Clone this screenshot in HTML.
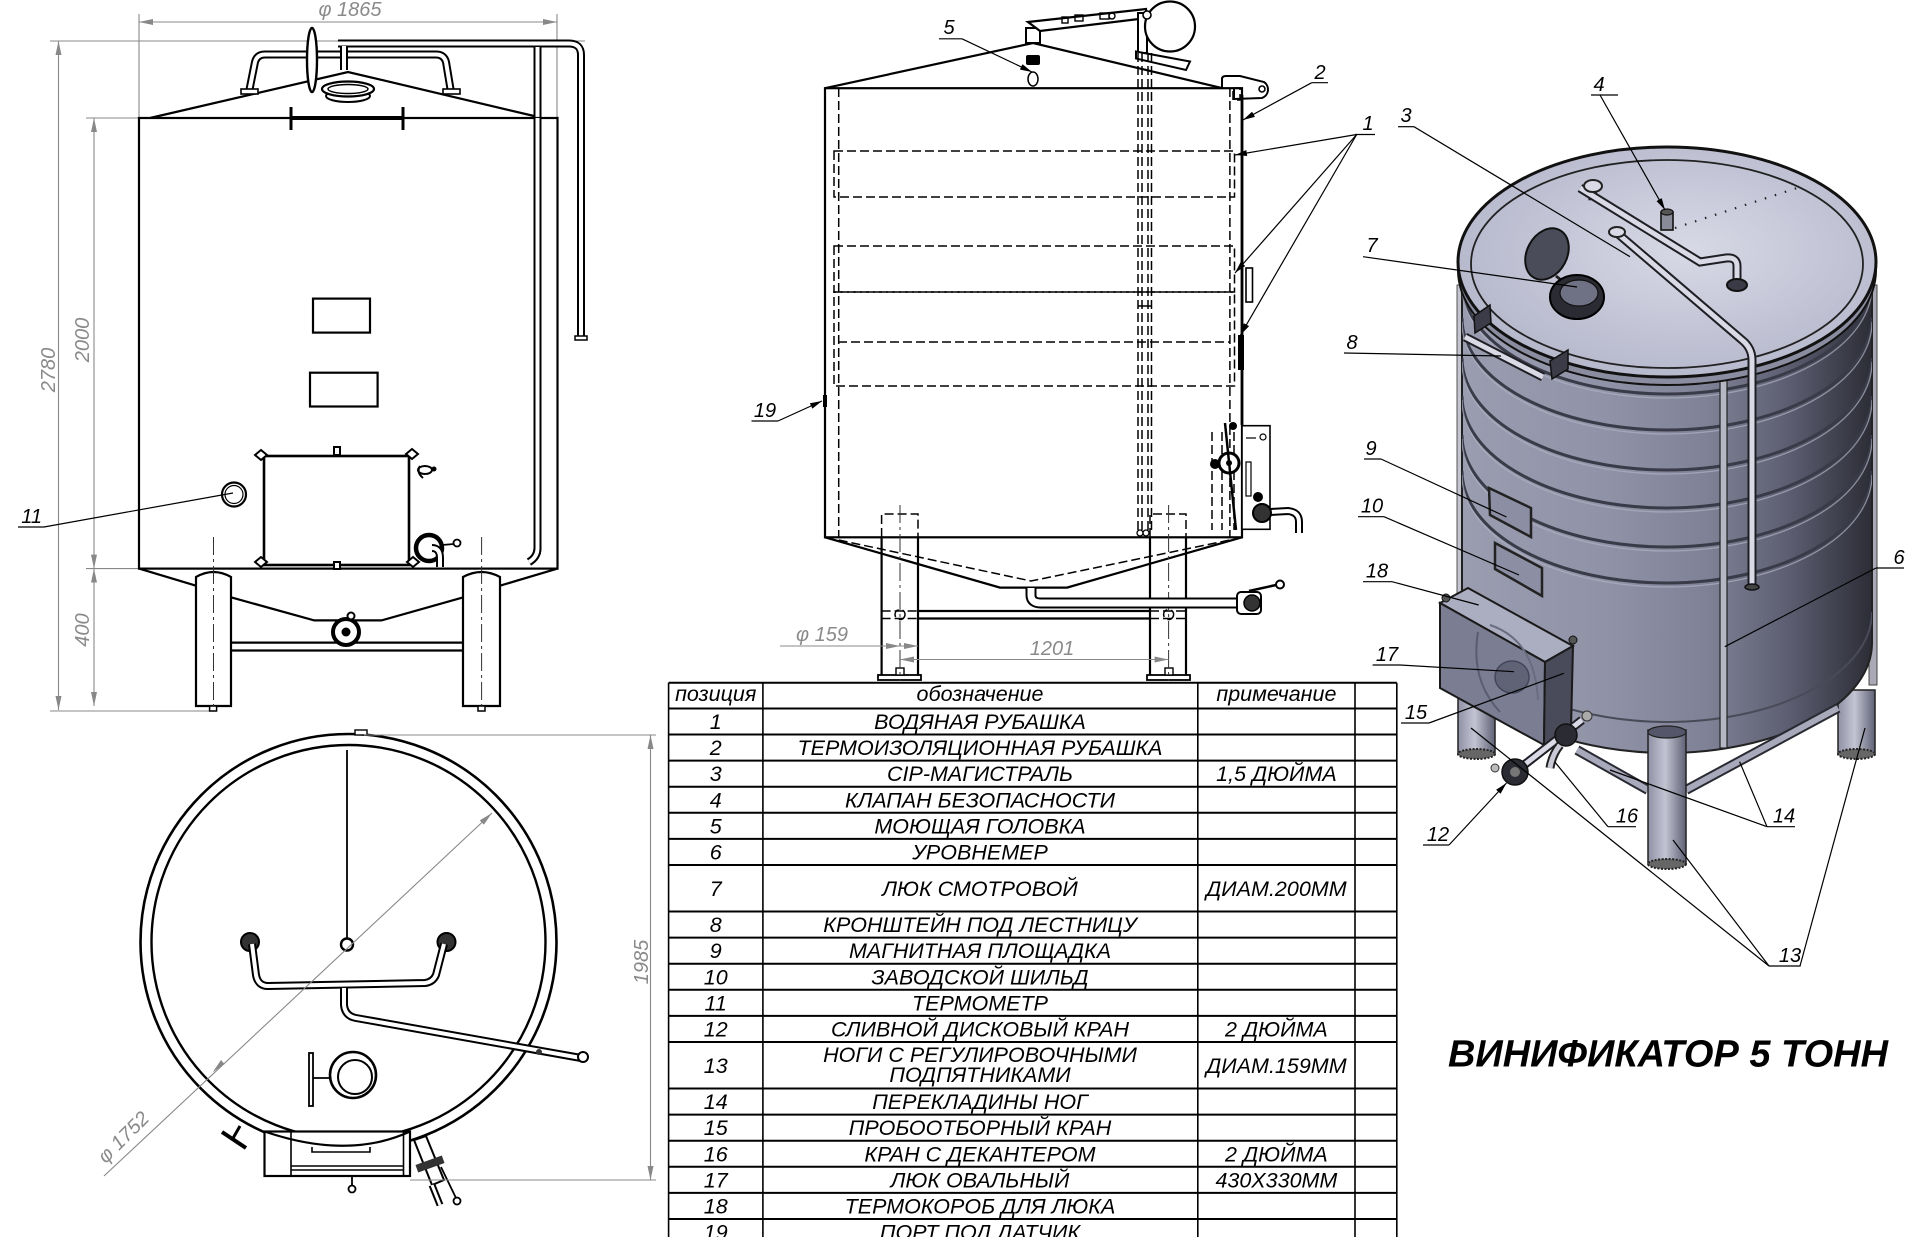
<!DOCTYPE html>
<html><head><meta charset="utf-8">
<style>
html,body{margin:0;padding:0;background:#fff;}
svg{display:block;}
text{font-family:"Liberation Sans","DejaVu Sans",sans-serif;font-style:italic;}
.s{fill:none;stroke:#000;stroke-width:2.2;}
.t{fill:none;stroke:#000;stroke-width:1.2;}
.d{fill:none;stroke:#000;stroke-width:1.5;stroke-dasharray:9,4;}
.dg{fill:none;stroke:#888;stroke-width:1.1;}
.cl{fill:none;stroke:#333;stroke-width:1;stroke-dasharray:18,4,3,4;}
.po{fill:none;stroke:#000;stroke-width:8;}
.pi{fill:none;stroke:#fff;stroke-width:4;}
.to{fill:none;stroke:#1e1e24;stroke-width:9;}
.ti{fill:none;stroke:#d9dae6;stroke-width:5;}
.lb{font-size:20px;fill:#000;text-anchor:middle;}
.dt{font-size:20px;fill:#8a8a8a;text-anchor:middle;}
.tb{font-size:21.5px;fill:#000;text-anchor:middle;}
</style></head><body>
<svg width="1920" height="1237" viewBox="0 0 1920 1237" xmlns="http://www.w3.org/2000/svg">
<defs>
<marker id="ar" viewBox="0 0 12 6" refX="12" refY="3" markerWidth="12" markerHeight="6" orient="auto-start-reverse" markerUnits="userSpaceOnUse"><path d="M0,0 L12,3 L0,6 Z" fill="#000"/></marker>
<marker id="ag" viewBox="0 0 14 6" refX="14" refY="3" markerWidth="14" markerHeight="6" orient="auto-start-reverse" markerUnits="userSpaceOnUse"><path d="M0,0 L14,3 L0,6 Z" fill="#888"/></marker>
<linearGradient id="body" x1="0" x2="1" y1="0" y2="0">
<stop offset="0" stop-color="#9a9cb0"/><stop offset="0.35" stop-color="#9092a7"/><stop offset="0.6" stop-color="#7f8196"/><stop offset="0.8" stop-color="#5c5d70"/><stop offset="1" stop-color="#2c2d36"/></linearGradient>
<radialGradient id="lid" cx="0.55" cy="0.45" r="0.65">
<stop offset="0" stop-color="#d8d9e6"/><stop offset="1" stop-color="#b1b3c8"/></radialGradient>
<linearGradient id="leg" x1="0" x2="1" y1="0" y2="0">
<stop offset="0" stop-color="#8f91a5"/><stop offset="0.45" stop-color="#c3c4d2"/><stop offset="1" stop-color="#5f6175"/></linearGradient>
<clipPath id="bc"><path d="M1462,262 L1462,643 A205,110 0 0 0 1872,643 L1872,262 Z"/></clipPath>
</defs>

<!-- ================= LEFT FRONT VIEW ================= -->
<!-- dimensions -->
<line class="dg" x1="139" y1="22" x2="557" y2="22" marker-start="url(#ag)" marker-end="url(#ag)"/>
<line class="dg" x1="139" y1="14" x2="139" y2="118"/>
<line class="dg" x1="557" y1="14" x2="557" y2="118"/>
<text class="dt" x="350" y="16" font-size="19">φ 1865</text>
<line class="dg" x1="58.5" y1="41" x2="58.5" y2="710" marker-start="url(#ag)" marker-end="url(#ag)"/>
<line class="dg" x1="50" y1="41" x2="585" y2="41"/>
<line class="dg" x1="50" y1="711" x2="213" y2="711"/>
<line class="dg" x1="94" y1="118" x2="94" y2="568.6" marker-start="url(#ag)" marker-end="url(#ag)"/>
<line class="dg" x1="94" y1="568.6" x2="94" y2="706" marker-start="url(#ag)" marker-end="url(#ag)"/>
<line class="dg" x1="86" y1="118" x2="139" y2="118"/>
<line class="dg" x1="86" y1="568.6" x2="139" y2="568.6"/>
<text class="dt" transform="translate(55,370) rotate(-90)">2780</text>
<text class="dt" transform="translate(89,340) rotate(-90)">2000</text>
<text class="dt" transform="translate(89,630) rotate(-90)">400</text>

<!-- roof -->
<polyline class="s" points="150,118 348,72 534,116"/>
<!-- roof pipes -->
<path class="po" d="M249,92 L255,62 Q257,54.5 265,54.5 L436,54.5 Q444,54.5 446,62 L451,92"/>
<path class="pi" d="M249,92 L255,62 Q257,54.5 265,54.5 L436,54.5 Q444,54.5 446,62 L451,92"/>
<rect x="241" y="89" width="17" height="5" fill="#fff" stroke="#000" stroke-width="1.6"/>
<rect x="443" y="89" width="17" height="5" fill="#fff" stroke="#000" stroke-width="1.6"/>
<path class="po" d="M338,43.5 L569,43.5 Q581,43.5 581,55 L581,339" stroke-width="7"/>
<path class="pi" d="M338,43.5 L569,43.5 Q581,43.5 581,55 L581,339" stroke-width="3.5"/>
<rect x="575" y="336" width="12" height="4" fill="#fff" stroke="#000" stroke-width="1.5"/>
<path class="po" d="M344,46 L344,70" stroke-width="7"/>
<path class="pi" d="M344,46 L344,70" stroke-width="3"/>
<!-- right vertical pipe -->
<path class="po" d="M537.5,47 L537.5,548 Q537.5,557 529,562" stroke-width="8.5"/>
<path class="pi" d="M537.5,47 L537.5,548 Q537.5,557 529,562" stroke-width="4.5"/>
<!-- manway -->
<ellipse cx="348" cy="96" rx="22" ry="6" fill="#fff" stroke="#000" stroke-width="2"/>
<ellipse cx="348" cy="89" rx="26" ry="7.5" fill="#fff" stroke="#000" stroke-width="2.2"/>
<ellipse cx="348" cy="89" rx="20" ry="4.5" fill="none" stroke="#000" stroke-width="1.5"/>
<ellipse cx="312" cy="60" rx="5" ry="32" fill="#fff" stroke="#000" stroke-width="2.4"/>
<!-- body -->
<rect class="s" x="139" y="118" width="418.5" height="450.6" fill="#fff"/>
<rect x="290.6" y="116" width="112.7" height="4" fill="#000"/>
<line x1="291" y1="107" x2="291" y2="130" stroke="#000" stroke-width="3"/>
<line x1="403" y1="107" x2="403" y2="130" stroke="#000" stroke-width="3"/>
<!-- pipes over body again (front) -->
<path class="po" d="M537.5,118 L537.5,548 Q537.5,557 529,562" stroke-width="8.5"/>
<path class="pi" d="M537.5,118 L537.5,548 Q537.5,557 529,562" stroke-width="4.5"/>
<rect class="s" x="313" y="298.6" width="57" height="34"/>
<rect class="s" x="310" y="372.7" width="67.6" height="33.8"/>
<!-- manhole -->
<rect x="264" y="456" width="145" height="109" fill="none" stroke="#000" stroke-width="2.6"/>
<g fill="#fff" stroke="#000" stroke-width="2">
<polygon points="261,450 267,455 261,460 255,455"/>
<polygon points="412,449 418,454 412,459 406,454"/>
<polygon points="261,557 267,562 261,567 255,562"/>
<polygon points="413,557 419,562 413,567 407,562"/>
<rect x="334" y="447" width="6" height="8"/>
<rect x="334" y="562" width="6" height="7"/>
</g>
<!-- sample valve -->
<ellipse cx="425" cy="470" rx="7" ry="4" fill="#fff" stroke="#000" stroke-width="2"/>
<path d="M420,466 Q416,472 423,478" fill="none" stroke="#000" stroke-width="2"/>
<circle cx="434" cy="469" r="2.5" fill="#000"/>
<!-- decanter valve -->
<circle cx="429" cy="548" r="13" fill="#fff" stroke="#000" stroke-width="4.5"/>
<path class="po" d="M432,548 Q440,548 440,558 L440,567" stroke-width="8"/>
<path class="pi" d="M432,548 Q440,548 440,558 L440,567" stroke-width="4"/>
<circle cx="457" cy="543" r="3.5" fill="#fff" stroke="#000" stroke-width="1.8"/>
<line x1="442" y1="545" x2="454" y2="544" stroke="#000" stroke-width="1.8"/>
<!-- thermometer -->
<circle cx="234" cy="494.5" r="12" fill="#fff" stroke="#000" stroke-width="2.2"/>
<circle cx="234" cy="494.5" r="9" fill="none" stroke="#000" stroke-width="1.2"/>
<!-- bottom cone & legs -->
<path class="s" d="M139,568.6 L196,585.7 M231,597.3 L314.3,620.4 L381.5,620.4 L463.4,597.3 M500,585.7 L557.5,568.6"/>
<path class="s" d="M196,706 L196,577 Q213.5,567 231,577 L231,706 Z" fill="#fff"/>
<path class="s" d="M463,706 L463,577 Q481.5,567 500,577 L500,706 Z" fill="#fff"/>
<line class="s" x1="231" y1="642.6" x2="463" y2="642.6"/>
<line class="s" x1="231" y1="650.5" x2="463" y2="650.5"/>
<rect x="209.6" y="706" width="7" height="5" fill="#fff" stroke="#000" stroke-width="1.5"/>
<rect x="478" y="706" width="7" height="5" fill="#fff" stroke="#000" stroke-width="1.5"/>
<line class="cl" x1="213.5" y1="537" x2="213.5" y2="712"/>
<line class="cl" x1="481.6" y1="537" x2="481.6" y2="712"/>
<circle cx="346" cy="632" r="13" fill="#fff" stroke="#000" stroke-width="4"/>
<circle cx="346" cy="632" r="4.5" fill="#000"/>
<circle cx="351" cy="616" r="3.5" fill="#fff" stroke="#000" stroke-width="2"/>
<!-- label 11 -->
<text class="lb" x="31.6" y="523">11</text>
<polyline class="t" points="18,527 44,527 233,493"/>

<!-- ================= TOP VIEW (circle) ================= -->
<circle cx="348.5" cy="942" r="208" fill="none" stroke="#000" stroke-width="2.6"/>
<circle cx="348.5" cy="942" r="197" fill="none" stroke="#000" stroke-width="2.4"/>
<rect x="355" y="730" width="12" height="5" fill="#fff" stroke="#000" stroke-width="1.4"/>
<line x1="347" y1="750" x2="347" y2="938" stroke="#000" stroke-width="1.8"/>
<circle cx="347" cy="944.5" r="6" fill="#fff" stroke="#000" stroke-width="2.4"/>
<circle cx="250" cy="942" r="9" fill="#333" stroke="#000" stroke-width="2"/>
<circle cx="446.5" cy="942" r="9" fill="#333" stroke="#000" stroke-width="2"/>
<path class="po" d="M252,944 L256,975 Q258,986 268,986 L425,983 Q433,982 436,975 L444,944"/>
<path class="pi" d="M252,944 L256,975 Q258,986 268,986 L425,983 Q433,982 436,975 L444,944"/>
<path class="po" d="M344,988 L344,1005 Q345,1016 356,1018 L581,1058"/>
<path class="pi" d="M344,988 L344,1005 Q345,1016 356,1018 L581,1058"/>
<circle cx="583" cy="1057" r="5" fill="#fff" stroke="#000" stroke-width="2"/>
<circle cx="539" cy="1052" r="3" fill="#333"/>
<circle cx="353" cy="1075" r="23" fill="#fff" stroke="#000" stroke-width="2.6"/>
<circle cx="355" cy="1077" r="17" fill="none" stroke="#000" stroke-width="2"/>
<rect x="309" y="1053" width="4" height="53" fill="#fff" stroke="#000" stroke-width="1.8"/>
<line x1="313" y1="1078" x2="330" y2="1078" stroke="#000" stroke-width="1.8"/>
<rect x="264.5" y="1131.5" width="145.5" height="44.5" fill="#fff" stroke="#000" stroke-width="2.2"/>
<path d="M291,1131.5 L291,1176 M403.5,1131.5 L403.5,1176 M291,1166 L403.5,1166 M291,1170 L403.5,1170" fill="none" stroke="#000" stroke-width="1.6"/>
<path d="M264.5,1131.5 Q348,1160 410,1131.5" fill="none" stroke="#000" stroke-width="2.2"/>
<path d="M312,1147 L312,1152 L370,1152 L370,1147" fill="none" stroke="#000" stroke-width="1.6"/>
<circle cx="352" cy="1189" r="3.5" fill="#fff" stroke="#000" stroke-width="1.8"/>
<line x1="352" y1="1176" x2="352" y2="1186" stroke="#000" stroke-width="1.8"/>
<line x1="240" y1="1126" x2="232" y2="1140" stroke="#000" stroke-width="3"/>
<line x1="222" y1="1132" x2="246" y2="1148" stroke="#000" stroke-width="4"/>
<path d="M414,1140 L432,1185 L444,1180 L426,1136 Z" fill="#fff" stroke="#000" stroke-width="2"/>
<path d="M432,1185 L440,1205" stroke="#000" stroke-width="7"/>
<path d="M432,1185 L440,1205" stroke="#fff" stroke-width="3"/>
<rect x="416" y="1160" width="28" height="8" fill="#333" transform="rotate(-20 430 1164)"/>
<line x1="441" y1="1167" x2="456" y2="1198" stroke="#000" stroke-width="1.8"/>
<circle cx="457" cy="1201" r="3.5" fill="#fff" stroke="#000" stroke-width="1.8"/>
<!-- dims -->
<line class="dg" x1="104" y1="1176" x2="492" y2="813" marker-end="url(#ag)"/>
<path d="M212.5,1072.5 L221,1060 L224.5,1064 Z" fill="#888"/>
<text class="dt" transform="translate(128,1142) rotate(-45)">φ 1752</text>
<line class="dg" x1="364" y1="735" x2="656" y2="735"/>
<line class="dg" x1="410" y1="1180" x2="656" y2="1180"/>
<line class="dg" x1="650.5" y1="735" x2="650.5" y2="1180" marker-start="url(#ag)" marker-end="url(#ag)"/>
<text class="dt" transform="translate(648,962) rotate(-90)">1985</text>

<!-- ================= MIDDLE SIDE VIEW ================= -->
<polyline class="s" points="825,88.2 1033,43 1223,88.3"/>
<!-- top pipes -->
<path d="M1026,28 L1040,28 L1040,43 L1026,43 Z" fill="#fff" stroke="#000" stroke-width="2"/>
<path d="M1028,22 L1146,9 L1147,18 L1040,31 Z" fill="#fff" stroke="#000" stroke-width="2.2"/>
<g fill="none" stroke="#000" stroke-width="1.4"><rect x="1062" y="17" width="6" height="6"/><rect x="1075" y="15" width="8" height="6"/><rect x="1100" y="13" width="9" height="6"/><circle cx="1112" cy="16" r="3"/></g>
<rect x="1138" y="13" width="9" height="40" fill="#fff" stroke="#000" stroke-width="2"/>
<circle cx="1170" cy="26.5" r="25" fill="#fff" stroke="#000" stroke-width="2.2"/>
<circle cx="1147" cy="15" r="4" fill="#fff" stroke="#000" stroke-width="1.6"/>
<path d="M1136,51.5 L1190,61.5 L1186,70 L1136,58.5 Z" fill="#fff" stroke="#000" stroke-width="2"/>
<rect x="1026" y="55" width="14" height="10" rx="2" fill="#000"/>
<ellipse cx="1033" cy="79" rx="5" ry="7" fill="#fff" stroke="#000" stroke-width="1.5"/>
<!-- bracket -->
<path d="M1222,88 L1222,79 Q1222,76 1226,76 L1240,76 L1264,82 A9,9 0 0 1 1262,98 L1234,99 L1234,88" fill="#fff" stroke="#000" stroke-width="2"/>
<circle cx="1262" cy="89" r="3" fill="none" stroke="#000" stroke-width="1.6"/>
<rect x="1233" y="88" width="7" height="12" class="d" stroke-width="1.2"/>
<!-- body -->
<rect class="s" x="825" y="88.2" width="417" height="449.1"/>
<line class="d" x1="838.7" y1="88" x2="838.7" y2="537"/>
<line class="d" x1="1229.9" y1="88" x2="1229.9" y2="537"/>
<rect class="d" x="834" y="151" width="400.5" height="46" stroke-width="1.2"/>
<rect class="d" x="834" y="246" width="400.5" height="46" stroke-width="1.2"/>
<rect class="d" x="834" y="292" width="400.5" height="94" stroke-width="1.2"/>
<line class="d" x1="838" y1="342" x2="1230" y2="342" stroke-width="1.2"/>
<g class="d" stroke-width="1.2"><line x1="1138" y1="53" x2="1138" y2="530"/><line x1="1142" y1="53" x2="1142" y2="530"/><line x1="1148" y1="53" x2="1148" y2="530"/><line x1="1151.5" y1="53" x2="1151.5" y2="530"/></g>
<line x1="1138" y1="306" x2="1152" y2="306" stroke="#000" stroke-width="1.5"/>
<circle cx="1140" cy="533" r="3" fill="none" stroke="#000" stroke-width="1.3"/><circle cx="1146" cy="533" r="3" fill="none" stroke="#000" stroke-width="1.3"/>
<line x1="1242" y1="95" x2="1242" y2="425" stroke="#000" stroke-width="2.8"/>
<rect x="1246" y="268" width="6.5" height="34" fill="#fff" stroke="#000" stroke-width="1.6"/>
<rect x="1238" y="335" width="6" height="35" fill="#000"/>
<rect x="823" y="395" width="4" height="12" fill="#000"/>
<!-- right bottom box & valves -->
<rect x="1242" y="425.7" width="28" height="103.6" fill="#fff" stroke="#000" stroke-width="1.6"/>
<g fill="none" stroke="#000" stroke-width="1.2"><rect x="1246" y="462" width="5" height="34"/><circle cx="1263" cy="437" r="3"/><line x1="1246" y1="438" x2="1256" y2="438"/></g>
<g class="d" stroke-width="1.1"><line x1="1212" y1="432" x2="1212" y2="530"/><line x1="1222" y1="432" x2="1222" y2="530"/><line x1="1234" y1="432" x2="1234" y2="530"/></g>
<circle cx="1229" cy="463" r="10" fill="#fff" stroke="#000" stroke-width="3"/>
<circle cx="1229" cy="463" r="3" fill="#000"/>
<circle cx="1215" cy="464" r="5" fill="#000"/>
<line x1="1225" y1="423" x2="1236" y2="530" stroke="#000" stroke-width="2.5"/>
<circle cx="1233" cy="426" r="4" fill="#000"/>
<path class="po" d="M1270,512 L1288,511 Q1299,512 1299,522 L1299,533" stroke-width="9"/>
<path class="pi" d="M1270,512 L1288,511 Q1299,512 1299,522 L1299,533" stroke-width="5"/>
<circle cx="1262" cy="513" r="9" fill="#333" stroke="#000" stroke-width="2"/>
<circle cx="1258" cy="497" r="5" fill="#000"/>
<!-- bottom cone -->
<path class="s" d="M825,537.3 L1000,587.6 L1067,587.6 L1242,537.3"/>
<path class="d" d="M838.7,540 L1031,581 L1229.9,540" stroke-width="1.3"/>
<!-- legs -->
<path class="s" d="M881.6,537 L881.6,677 M918,537 L918,677 M1150,537 L1150,677 M1186,537 L1186,677"/>
<path class="d" d="M881.6,537 L881.6,514 L918,514 L918,537 M1150,537 L1150,514 L1186,514 L1186,537" stroke-width="1.3"/>
<rect x="878" y="675" width="43" height="5" fill="#fff" stroke="#000" stroke-width="1.8"/>
<rect x="1147" y="675" width="43" height="5" fill="#fff" stroke="#000" stroke-width="1.8"/>
<rect x="896" y="668" width="8" height="7" fill="#fff" stroke="#000" stroke-width="1.4"/>
<rect x="1165" y="668" width="8" height="7" fill="#fff" stroke="#000" stroke-width="1.4"/>
<line class="s" x1="918" y1="611" x2="1150" y2="611"/>
<line class="s" x1="918" y1="618.5" x2="1150" y2="618.5"/>
<path class="d" d="M881.6,611 L918,611 M881.6,618.5 L918,618.5 M1150,611 L1186,611 M1150,618.5 L1186,618.5" stroke-width="1.2"/>
<ellipse cx="900" cy="614.5" rx="5" ry="5" class="d" stroke-width="1.2"/>
<ellipse cx="1168.6" cy="614.5" rx="5" ry="5" class="d" stroke-width="1.2"/>
<line class="cl" x1="900" y1="505" x2="900" y2="681"/>
<line class="cl" x1="1168.6" y1="505" x2="1168.6" y2="681"/>
<!-- drain pipe -->
<path d="M1031,588 L1031,595 Q1031,603 1041,603 L1237,603" fill="none" stroke="#000" stroke-width="11"/>
<path d="M1031,588 L1031,595 Q1031,603 1041,603 L1237,603" fill="none" stroke="#fff" stroke-width="7"/>
<rect x="1237" y="592" width="24" height="22" rx="4" fill="#fff" stroke="#000" stroke-width="2"/>
<circle cx="1252" cy="603" r="8" fill="#333" stroke="#000" stroke-width="1.5"/>
<line x1="1249" y1="591" x2="1276" y2="585" stroke="#000" stroke-width="2.5"/>
<circle cx="1280" cy="584.5" r="4" fill="#fff" stroke="#000" stroke-width="2"/>
<!-- dims -->
<line class="dg" x1="780" y1="646" x2="918" y2="646" marker-end="url(#ag)"/>
<path d="M900,646 L886,643 L886,649 Z" fill="#888"/>
<text class="dt" x="822" y="641">φ 159</text>
<line class="dg" x1="900" y1="659.5" x2="1168.6" y2="659.5" marker-start="url(#ag)" marker-end="url(#ag)"/>
<text class="dt" x="1052" y="655">1201</text>
<!-- labels -->
<text class="lb" x="949" y="34">5</text>
<line class="t" x1="939" y1="38.8" x2="962" y2="38.8"/>
<line class="t" x1="962" y1="38.8" x2="1032" y2="72" marker-end="url(#ar)"/>
<text class="lb" x="765" y="417">19</text>
<line class="t" x1="751.5" y1="421" x2="778" y2="421"/>
<line class="t" x1="778" y1="421" x2="822" y2="401" marker-end="url(#ar)"/>
<text class="lb" x="1320" y="79">2</text>
<line class="t" x1="1311.7" y1="82.7" x2="1328" y2="82.7"/>
<line class="t" x1="1311.7" y1="82.7" x2="1243" y2="120" marker-end="url(#ar)"/>
<text class="lb" x="1368" y="130">1</text>
<line class="t" x1="1355" y1="134.5" x2="1375" y2="134.5"/>
<line class="t" x1="1356.7" y1="134.5" x2="1235" y2="155" marker-end="url(#ar)"/>
<line class="t" x1="1356.7" y1="134.5" x2="1235" y2="273" marker-end="url(#ar)"/>
<line class="t" x1="1356.7" y1="134.5" x2="1240.5" y2="335" marker-end="url(#ar)"/>

<!-- ================= 3D VIEW ================= -->
<!-- back legs -->
<rect x="1458" y="690" width="37" height="64" fill="url(#leg)" stroke="#222" stroke-width="1.5"/>
<ellipse cx="1476.5" cy="754" rx="18.5" ry="5" fill="#666" stroke="#222" stroke-width="2" stroke-dasharray="2,1.5"/>
<rect x="1838" y="690" width="37" height="64" fill="url(#leg)" stroke="#222" stroke-width="1.5"/>
<ellipse cx="1856.5" cy="754" rx="18.5" ry="5" fill="#666" stroke="#222" stroke-width="2" stroke-dasharray="2,1.5"/>
<!-- side strips -->
<rect x="1457" y="285" width="8" height="410" fill="#c3c4cf" stroke="#555" stroke-width="1"/>
<rect x="1869" y="285" width="8" height="400" fill="#a9aab6" stroke="#444" stroke-width="1"/>
<!-- body -->
<path d="M1462,262 L1462,643 A205,110 0 0 0 1872,643 L1872,262 Z" fill="url(#body)" stroke="#222" stroke-width="2"/>
<g clip-path="url(#bc)" fill="none">
<g stroke="#3a3b48" stroke-width="3">
<path d="M1462,282 A205,112 0 0 0 1872,282"/>
<path d="M1462,318 A205,112 0 0 0 1872,318"/>
<path d="M1462,358 A205,112 0 0 0 1872,358"/>
<path d="M1462,396 A205,112 0 0 0 1872,396"/>
<path d="M1462,435 A205,112 0 0 0 1872,435"/>
<path d="M1462,471 A205,112 0 0 0 1872,471"/>
</g>
<g stroke="#b0b2c3" stroke-width="1.3" opacity="0.7">
<path d="M1462,286 A205,112 0 0 0 1872,286"/>
<path d="M1462,322 A205,112 0 0 0 1872,322"/>
<path d="M1462,362 A205,112 0 0 0 1872,362"/>
<path d="M1462,400 A205,112 0 0 0 1872,400"/>
<path d="M1462,439 A205,112 0 0 0 1872,439"/>
<path d="M1462,475 A205,112 0 0 0 1872,475"/>
</g>
<path d="M1462,612 A205,110 0 0 0 1872,612" stroke="#4a4b58" stroke-width="2"/>
</g>
<!-- windows 9,10 -->
<polygon points="1489,488 1531,508 1531,537 1490,515" fill="#8c8ea3" stroke="#222" stroke-width="2.5"/>
<polygon points="1495,543 1542,568 1542,596 1495,569" fill="#8c8ea3" stroke="#222" stroke-width="2.5"/>
<!-- level gauge tube 6 -->
<rect x="1720" y="336" width="7" height="412" fill="#b6b7c5" stroke="#222" stroke-width="1.2"/>
<!-- lid rim & lid -->
<path d="M1458,262 L1458,270 A209,115 0 0 0 1876,270 L1876,262 Z" fill="#8a8c9f" stroke="#111" stroke-width="2"/>
<ellipse cx="1667" cy="262" rx="209" ry="115" fill="url(#lid)" stroke="#111" stroke-width="3"/>
<ellipse cx="1667" cy="264" rx="196" ry="104" fill="none" stroke="#222" stroke-width="1.8"/>
<!-- lid objects -->
<ellipse cx="1547" cy="254" rx="20" ry="27" transform="rotate(28 1547 254)" fill="#4b4c5a" stroke="#111" stroke-width="2"/>
<line x1="1556" y1="276" x2="1566" y2="284" stroke="#222" stroke-width="3"/>
<ellipse cx="1577" cy="297" rx="27" ry="22" fill="#2b2b34" stroke="#000" stroke-width="2"/>
<ellipse cx="1579" cy="293" rx="19" ry="13" fill="#6f7184" stroke="#111" stroke-width="1.2"/>
<path class="to" d="M1593,200 L1592,188 M1580,188 L1700,262 L1726,258 Q1737,257 1737,266 L1737,282"/>
<path class="ti" d="M1580,188 L1700,262 L1726,258 Q1737,257 1737,266 L1737,282"/>
<ellipse cx="1593" cy="186" rx="9" ry="6" fill="#d9dae6" stroke="#222" stroke-width="2"/>
<ellipse cx="1737" cy="285" rx="10" ry="6" fill="#3a3b46" stroke="#111" stroke-width="2"/>
<path class="to" d="M1617,233 L1742,340 Q1752,348 1752,360 L1752,585"/>
<path class="ti" d="M1617,233 L1742,340 Q1752,348 1752,360 L1752,585"/>
<ellipse cx="1617" cy="232" rx="8" ry="5" fill="#d9dae6" stroke="#222" stroke-width="2"/>
<ellipse cx="1752" cy="587" rx="7" ry="3" fill="#444" stroke="#111" stroke-width="1.5"/>
<rect x="1661" y="212" width="12" height="18" fill="#8a8b98" stroke="#111" stroke-width="1.6"/>
<ellipse cx="1667" cy="212" rx="6" ry="3" fill="#555" stroke="#111" stroke-width="1.2"/>
<line x1="1675" y1="228" x2="1797" y2="188" stroke="#222" stroke-width="2.2" stroke-dasharray="1.5,9"/>
<!-- bracket 8 -->
<path class="to" d="M1465,337 L1543,377"/>
<path class="ti" d="M1465,337 L1543,377"/>
<polygon points="1474,316 1490,305 1491,323 1475,333" fill="#3b3c48" stroke="#111" stroke-width="1.5"/>
<polygon points="1550,361 1568,350 1568,369 1552,379" fill="#3b3c48" stroke="#111" stroke-width="1.5"/>
<!-- crossbars -->
<path d="M1577,750 L1648,790 M1686,790 L1838,708" fill="none" stroke="#2a2a33" stroke-width="10"/>
<path d="M1577,750 L1648,790 M1686,790 L1838,708" fill="none" stroke="#a8aabb" stroke-width="6"/>
<!-- box 18/17 -->
<polygon points="1440,603 1468,588 1573,646 1545,662" fill="#abadc0" stroke="#1a1a1a" stroke-width="2"/>
<polygon points="1440,603 1545,662 1544,745 1440,688" fill="#7b7d92" stroke="#1a1a1a" stroke-width="2"/>
<polygon points="1545,662 1573,646 1571,728 1544,745" fill="#4a4b5a" stroke="#1a1a1a" stroke-width="2"/>
<ellipse cx="1512" cy="677" rx="17" ry="16" fill="#606275" stroke="#44465a" stroke-width="1.5"/>
<path d="M1478,632 Q1470,680 1500,712" fill="none" stroke="#5a5c70" stroke-width="2"/>
<path d="M1490,625 Q1535,640 1538,700" fill="none" stroke="#6a6c80" stroke-width="2"/>
<circle cx="1446" cy="598" r="4" fill="#555" stroke="#111" stroke-width="1"/>
<circle cx="1573" cy="640" r="4" fill="#555" stroke="#111" stroke-width="1"/>
<!-- valves -->
<path class="to" d="M1582,720 L1515,772"/>
<path class="ti" d="M1582,720 L1515,772" stroke="#c4c5d2"/>
<circle cx="1566" cy="735" r="11" fill="#2b2b33" stroke="#111" stroke-width="1.5"/>
<path d="M1560,745 Q1552,755 1550,768" fill="none" stroke="#222" stroke-width="9"/>
<path d="M1560,745 Q1552,755 1550,768" fill="none" stroke="#c9cad6" stroke-width="5"/>
<circle cx="1515" cy="772" r="13" fill="#2b2b33" stroke="#111" stroke-width="1.5"/>
<circle cx="1515" cy="772" r="5" fill="#777"/>
<circle cx="1495" cy="768" r="4" fill="#bbb" stroke="#333" stroke-width="1"/>
<circle cx="1587" cy="716" r="5" fill="#aaa" stroke="#333" stroke-width="1"/>
<!-- front leg -->
<rect x="1648" y="730" width="38" height="134" fill="url(#leg)" stroke="#222" stroke-width="1.5"/>
<ellipse cx="1667" cy="732" rx="19" ry="6" fill="#55566a" stroke="#222" stroke-width="1.2"/>
<ellipse cx="1667" cy="864" rx="19" ry="5" fill="#666" stroke="#222" stroke-width="2" stroke-dasharray="2,1.5"/>
<!-- 3D labels -->
<g>
<text class="lb" x="1599" y="91">4</text>
<line class="t" x1="1591" y1="95" x2="1618" y2="95"/>
<line class="t" x1="1600" y1="95" x2="1665" y2="210" marker-end="url(#ar)"/>
<text class="lb" x="1406" y="122">3</text>
<line class="t" x1="1398" y1="126.7" x2="1414" y2="126.7"/>
<line class="t" x1="1414" y1="126.7" x2="1630" y2="256.7"/>
<text class="lb" x="1372" y="252">7</text>
<line class="t" x1="1363" y1="256.7" x2="1577" y2="287"/>
<text class="lb" x="1352" y="349">8</text>
<line class="t" x1="1344" y1="353" x2="1501" y2="356"/>
<text class="lb" x="1371" y="455">9</text>
<line class="t" x1="1364" y1="459" x2="1381" y2="459"/>
<line class="t" x1="1381" y1="459" x2="1506.5" y2="517"/>
<text class="lb" x="1372" y="512.7">10</text>
<line class="t" x1="1358" y1="516.7" x2="1384" y2="516.7"/>
<line class="t" x1="1384" y1="516.7" x2="1519" y2="575"/>
<text class="lb" x="1377" y="577.7">18</text>
<line class="t" x1="1363" y1="581.7" x2="1392" y2="581.7"/>
<line class="t" x1="1392" y1="581.7" x2="1478.7" y2="605"/>
<text class="lb" x="1387" y="661">17</text>
<line class="t" x1="1372.6" y1="665" x2="1400" y2="665"/>
<line class="t" x1="1400" y1="665" x2="1514" y2="671.7"/>
<text class="lb" x="1416" y="719">15</text>
<line class="t" x1="1401" y1="723" x2="1429" y2="723"/>
<line class="t" x1="1429" y1="723" x2="1563.8" y2="673.3"/>
<text class="lb" x="1438" y="841">12</text>
<line class="t" x1="1423" y1="845" x2="1449" y2="845"/>
<line class="t" x1="1449" y1="845" x2="1506.5" y2="783" marker-end="url(#ar)"/>
<text class="lb" x="1627" y="822.7">16</text>
<line class="t" x1="1608" y1="826.7" x2="1636" y2="826.7"/>
<line class="t" x1="1608" y1="826.7" x2="1554.6" y2="761.7"/>
<text class="lb" x="1784" y="822.7">14</text>
<line class="t" x1="1767" y1="826.7" x2="1795" y2="826.7"/>
<line class="t" x1="1767" y1="826.7" x2="1739.6" y2="761.7"/>
<line class="t" x1="1767" y1="826.7" x2="1610" y2="770"/>
<text class="lb" x="1790" y="962">13</text>
<line class="t" x1="1769" y1="966" x2="1800.6" y2="966"/>
<line class="t" x1="1769" y1="966" x2="1471" y2="728"/>
<line class="t" x1="1769" y1="966" x2="1673" y2="840"/>
<line class="t" x1="1800" y1="966" x2="1865" y2="728"/>
<text class="lb" x="1899" y="564">6</text>
<line class="t" x1="1876" y1="568" x2="1904" y2="568"/>
<line class="t" x1="1876" y1="568" x2="1724.8" y2="646.7"/>
</g>

<!-- ================= TITLE ================= -->
<text x="1448" y="1066.7" font-size="38" font-weight="bold" textLength="440" lengthAdjust="spacingAndGlyphs" fill="#000">ВИНИФИКАТОР 5 ТОНН</text>

<!-- ================= TABLE ================= -->
<g stroke="#000" stroke-width="2" fill="none">
<line x1="668.6" y1="682.7" x2="1396.8" y2="682.7"/>
<line x1="668.6" y1="708.5" x2="1396.8" y2="708.5"/>
<line x1="668.6" y1="734.5" x2="1396.8" y2="734.5"/>
<line x1="668.6" y1="760.6" x2="1396.8" y2="760.6"/>
<line x1="668.6" y1="786.7" x2="1396.8" y2="786.7"/>
<line x1="668.6" y1="812.8" x2="1396.8" y2="812.8"/>
<line x1="668.6" y1="838.9" x2="1396.8" y2="838.9"/>
<line x1="668.6" y1="865" x2="1396.8" y2="865"/>
<line x1="668.6" y1="911.5" x2="1396.8" y2="911.5"/>
<line x1="668.6" y1="937.6" x2="1396.8" y2="937.6"/>
<line x1="668.6" y1="963.7" x2="1396.8" y2="963.7"/>
<line x1="668.6" y1="989.8" x2="1396.8" y2="989.8"/>
<line x1="668.6" y1="1015.9" x2="1396.8" y2="1015.9"/>
<line x1="668.6" y1="1042" x2="1396.8" y2="1042"/>
<line x1="668.6" y1="1088.5" x2="1396.8" y2="1088.5"/>
<line x1="668.6" y1="1114.6" x2="1396.8" y2="1114.6"/>
<line x1="668.6" y1="1140.7" x2="1396.8" y2="1140.7"/>
<line x1="668.6" y1="1166.8" x2="1396.8" y2="1166.8"/>
<line x1="668.6" y1="1192.9" x2="1396.8" y2="1192.9"/>
<line x1="668.6" y1="1219" x2="1396.8" y2="1219"/>
</g>
<g stroke="#000" stroke-width="1.6">
<line x1="668.6" y1="682.7" x2="668.6" y2="1237"/>
<line x1="762.9" y1="682.7" x2="762.9" y2="1237"/>
<line x1="1197.8" y1="682.7" x2="1197.8" y2="1237"/>
<line x1="1355" y1="682.7" x2="1355" y2="1237"/>
<line x1="1396.8" y1="682.7" x2="1396.8" y2="1237"/>
</g>
<g class="tb">
<text class="tb" x="715.7" y="701">позиция</text>
<text class="tb" x="980" y="701">обозначение</text>
<text class="tb" x="1276.4" y="701">примечание</text>

<text class="tb" x="715.7" y="729">1</text><text class="tb" x="980" y="729">ВОДЯНАЯ РУБАШКА</text>
<text class="tb" x="715.7" y="755.1">2</text><text class="tb" x="980" y="755.1">ТЕРМОИЗОЛЯЦИОННАЯ РУБАШКА</text>
<text class="tb" x="715.7" y="781.2">3</text><text class="tb" x="980" y="781.2">CIP-МАГИСТРАЛЬ</text><text class="tb" x="1276.4" y="781.2">1,5 ДЮЙМА</text>
<text class="tb" x="715.7" y="807.3">4</text><text class="tb" x="980" y="807.3">КЛАПАН БЕЗОПАСНОСТИ</text>
<text class="tb" x="715.7" y="833.4">5</text><text class="tb" x="980" y="833.4">МОЮЩАЯ ГОЛОВКА</text>
<text class="tb" x="715.7" y="859.5">6</text><text class="tb" x="980" y="859.5">УРОВНЕМЕР</text>
<text class="tb" x="715.7" y="895.8">7</text><text class="tb" x="980" y="895.8">ЛЮК СМОТРОВОЙ</text><text class="tb" x="1276.4" y="895.8">ДИАМ.200ММ</text>
<text class="tb" x="715.7" y="932.1">8</text><text class="tb" x="980" y="932.1">КРОНШТЕЙН ПОД ЛЕСТНИЦУ</text>
<text class="tb" x="715.7" y="958.2">9</text><text class="tb" x="980" y="958.2">МАГНИТНАЯ ПЛОЩАДКА</text>
<text class="tb" x="715.7" y="984.3">10</text><text class="tb" x="980" y="984.3">ЗАВОДСКОЙ ШИЛЬД</text>
<text class="tb" x="715.7" y="1010.4">11</text><text class="tb" x="980" y="1010.4">ТЕРМОМЕТР</text>
<text class="tb" x="715.7" y="1036.5">12</text><text class="tb" x="980" y="1036.5">СЛИВНОЙ ДИСКОВЫЙ КРАН</text><text class="tb" x="1276.4" y="1036.5">2 ДЮЙМА</text>
<text class="tb" x="715.7" y="1073">13</text><text class="tb" x="980" y="1062">НОГИ С РЕГУЛИРОВОЧНЫМИ</text><text class="tb" x="980" y="1082">ПОДПЯТНИКАМИ</text><text class="tb" x="1276.4" y="1073">ДИАМ.159ММ</text>
<text class="tb" x="715.7" y="1109.1">14</text><text class="tb" x="980" y="1109.1">ПЕРЕКЛАДИНЫ НОГ</text>
<text class="tb" x="715.7" y="1135.2">15</text><text class="tb" x="980" y="1135.2">ПРОБООТБОРНЫЙ КРАН</text>
<text class="tb" x="715.7" y="1161.3">16</text><text class="tb" x="980" y="1161.3">КРАН С ДЕКАНТЕРОМ</text><text class="tb" x="1276.4" y="1161.3">2 ДЮЙМА</text>
<text class="tb" x="715.7" y="1187.4">17</text><text class="tb" x="980" y="1187.4">ЛЮК ОВАЛЬНЫЙ</text><text class="tb" x="1276.4" y="1187.4">430X330ММ</text>
<text class="tb" x="715.7" y="1213.5">18</text><text class="tb" x="980" y="1213.5">ТЕРМОКОРОБ ДЛЯ ЛЮКА</text>
<text class="tb" x="715.7" y="1239.6">19</text><text class="tb" x="980" y="1239.6">ПОРТ ПОД ДАТЧИК</text>
</g>
</svg>
</body></html>
